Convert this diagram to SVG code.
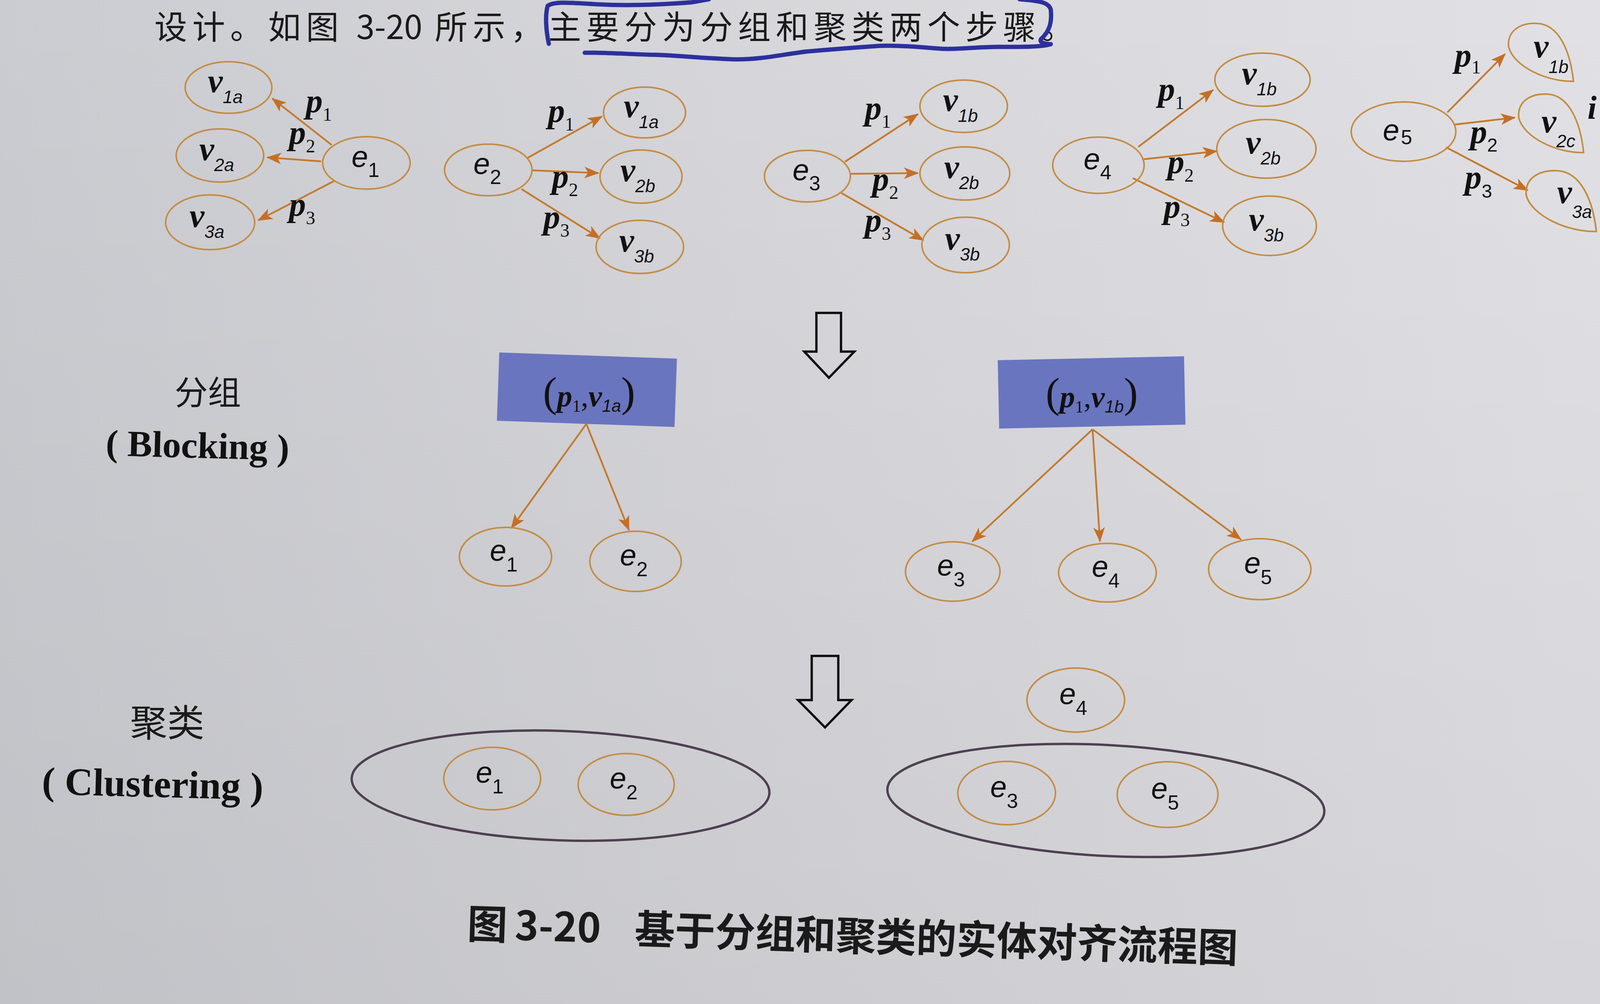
<svg xmlns="http://www.w3.org/2000/svg" width="4259" height="2570" viewBox="0 0 4259 2570">
<defs>
<linearGradient id="bg" x1="0" y1="0" x2="1" y2="0">
<stop offset="0" stop-color="#cbccd1"/>
<stop offset="0.5" stop-color="#d7d7dc"/>
<stop offset="1" stop-color="#e2e2e6"/>
</linearGradient>
<linearGradient id="shade" x1="0" y1="0" x2="0" y2="1">
<stop offset="0" stop-color="#000" stop-opacity="0"/>
<stop offset="1" stop-color="#000" stop-opacity="0.05"/>
</linearGradient>
<marker id="ah" viewBox="0 0 36 28" refX="34" refY="14" markerWidth="38" markerHeight="30" markerUnits="userSpaceOnUse" orient="auto">
<path d="M0,0 L36,14 L0,28 L9,14 Z" fill="#c46f25"/>
</marker>
<path id="tear" d="M168,148 C100,150 15,110 2,60 C-2,20 30,-2 75,0 C130,2 160,70 168,148 Z"/>
</defs>
<style>
.node{fill:none;stroke:#c48c42;stroke-width:4}
.clus{fill:none;stroke:#4e4050;stroke-width:6}
.edge{fill:none;stroke:#c47a2c;stroke-width:4.5;marker-end:url(#ah)}
.e{font-family:"Liberation Sans",Arial,sans-serif;font-style:italic;font-size:76px;fill:#111}
.es{font-style:normal;font-size:52px}
.v{font-family:"Liberation Serif","Times New Roman",serif;font-style:italic;font-weight:bold;font-size:86px;fill:#111}
.vs{font-family:"Liberation Sans",Arial,sans-serif;font-weight:normal;font-size:46px}
.p{font-family:"Liberation Serif","Times New Roman",serif;font-style:italic;font-weight:bold;font-size:86px;fill:#111}
.ps{font-style:normal;font-weight:normal;font-size:48px}
.cjk{font-family:"Noto Sans CJK SC",sans-serif;fill:#1a1a1a}
.lat{font-family:"Liberation Serif","Times New Roman",serif;font-weight:bold;fill:#111}
.hollow{fill:none;stroke:#111;stroke-width:6;stroke-linejoin:miter}
.box{fill:#6a75bf}
.bt{font-family:"Liberation Serif","Times New Roman",serif;fill:#111}
.par{font-size:108px}
.bi{font-size:78px;font-style:italic;font-weight:bold}
.bn{font-size:78px}
.bsub{font-size:44px}
.bsubs{font-size:44px;font-family:"Liberation Sans",Arial,sans-serif;font-style:italic}
.ink{fill:none;stroke:#2c309c;stroke-width:11;stroke-linecap:round;stroke-linejoin:round}
.nsp{letter-spacing:0}
</style>
<rect x="0" y="0" width="4259" height="2570" fill="url(#bg)"/>
<rect x="0" y="0" width="4259" height="2570" fill="url(#shade)"/>

<!-- page text -->
<g id="pagetext">
<text class="cjk" x="1404" y="100" font-size="84" letter-spacing="13" text-anchor="end">设计。如图 <tspan class="nsp">3-20</tspan> 所示，</text>
<text class="cjk" x="1404" y="100" font-size="84" letter-spacing="13">主要分为分组和聚类两个步骤。</text>
<path class="ink" d="M1405,112 C1398,80 1395,40 1402,15 C1420,2 1470,8 1530,11 C1600,15 1690,12 1770,6 L1815,-2"/>
<path class="ink" d="M2610,-2 C2650,2 2685,3 2690,25 C2693,55 2688,80 2665,100 C2660,108 2672,112 2690,113 C2670,121 2600,120 2555,120 C2480,121 2440,128 2400,124 C2320,117 2270,116 2243,118 C2170,123 2110,128 2064,132 C2000,140 1950,152 1886,152 C1800,150 1720,140 1662,140 C1600,138 1540,134 1497,135"/>
<text x="4064" y="304" font-family="Liberation Serif, serif" font-style="italic" font-weight="bold" font-size="84" fill="#111">i</text>
</g>

<!-- connectors -->
<g id="connectors">
<line class="edge" x1="849" y1="371" x2="697" y2="252"/>
<line class="edge" x1="822" y1="413" x2="684" y2="403"/>
<line class="edge" x1="858" y1="462" x2="661" y2="564"/>
<line class="edge" x1="1349" y1="405" x2="1541" y2="298"/>
<line class="edge" x1="1362" y1="436" x2="1532" y2="443"/>
<line class="edge" x1="1335" y1="484" x2="1536" y2="610"/>
<line class="edge" x1="2163" y1="414" x2="2350" y2="292"/>
<line class="edge" x1="2177" y1="445" x2="2350" y2="443"/>
<line class="edge" x1="2154" y1="494" x2="2364" y2="615"/>
<line class="edge" x1="2914" y1="376" x2="3106" y2="230"/>
<line class="edge" x1="2924" y1="408" x2="3115" y2="387"/>
<line class="edge" x1="2900" y1="456" x2="3134" y2="569"/>
<line class="edge" x1="3705" y1="288" x2="3853" y2="138"/>
<line class="edge" x1="3722" y1="319" x2="3878" y2="301"/>
<line class="edge" x1="3702" y1="377" x2="3911" y2="487"/>
<line class="edge" x1="1501" y1="1085" x2="1309" y2="1352"/>
<line class="edge" x1="1501" y1="1085" x2="1610" y2="1357"/>
<line class="edge" x1="2797" y1="1099" x2="2489" y2="1386"/>
<line class="edge" x1="2797" y1="1099" x2="2816" y2="1386"/>
<line class="edge" x1="2797" y1="1099" x2="3177" y2="1381"/>
</g>

<!-- edge labels -->
<g id="edge-labels">
<text class="p" x="783" y="287">p<tspan class="ps" dy="22">1</tspan></text>
<text class="p" x="740" y="368">p<tspan class="ps" dy="22">2</tspan></text>
<text class="p" x="740" y="552">p<tspan class="ps" dy="22">3</tspan></text>
<text class="p" x="1403" y="312">p<tspan class="ps" dy="22">1</tspan></text>
<text class="p" x="1413" y="480">p<tspan class="ps" dy="22">2</tspan></text>
<text class="p" x="1391" y="584">p<tspan class="ps" dy="22">3</tspan></text>
<text class="p" x="2214" y="305">p<tspan class="ps" dy="22">1</tspan></text>
<text class="p" x="2233" y="487">p<tspan class="ps" dy="22">2</tspan></text>
<text class="p" x="2214" y="592">p<tspan class="ps" dy="22">3</tspan></text>
<text class="p" x="2965" y="257">p<tspan class="ps" dy="22">1</tspan></text>
<text class="p" x="2989" y="443">p<tspan class="ps" dy="22">2</tspan></text>
<text class="p" x="2979" y="557">p<tspan class="ps" dy="22">3</tspan></text>
<text class="p" x="3724" y="170" font-size="94">p<tspan class="ps" font-size="56" dy="18">1</tspan></text>
<text class="p" x="3764" y="366" font-size="94">p<tspan class="ps" font-size="56" dy="22" font-family="Liberation Sans, sans-serif">2</tspan></text>
<text class="p" x="3750" y="482" font-size="94">p<tspan class="ps" font-size="56" dy="24" font-family="Liberation Sans, sans-serif">3</tspan></text>
</g>

<!-- group 1 -->
<g id="g1-v1a"><ellipse class="node" cx="585" cy="224" rx="111" ry="66"/><text class="v" x="532" y="236">v<tspan class="vs" dy="28">1a</tspan></text></g>
<g id="g1-v2a"><ellipse class="node" cx="563" cy="398" rx="112" ry="68"/><text class="v" x="510" y="410">v<tspan class="vs" dy="28">2a</tspan></text></g>
<g id="g1-v3a"><ellipse class="node" cx="538" cy="569" rx="114" ry="70"/><text class="v" x="485" y="581">v<tspan class="vs" dy="28">3a</tspan></text></g>
<g id="g1-e1"><ellipse class="node" cx="938" cy="417" rx="112" ry="67"/><text class="e" x="900" y="427">e<tspan class="es" dy="26">1</tspan></text></g>

<!-- group 2 -->
<g id="g2-e2"><ellipse class="node" cx="1250" cy="435" rx="112" ry="66"/><text class="e" x="1212" y="445">e<tspan class="es" dy="26">2</tspan></text></g>
<g id="g2-v1a"><ellipse class="node" cx="1650" cy="288" rx="105" ry="65"/><text class="v" x="1597" y="300">v<tspan class="vs" dy="28">1a</tspan></text></g>
<g id="g2-v2b"><ellipse class="node" cx="1641" cy="452" rx="105" ry="68"/><text class="v" x="1588" y="464">v<tspan class="vs" dy="28">2b</tspan></text></g>
<g id="g2-v3b"><ellipse class="node" cx="1638" cy="632" rx="112" ry="68"/><text class="v" x="1585" y="644">v<tspan class="vs" dy="28">3b</tspan></text></g>

<!-- group 3 -->
<g id="g3-e3"><ellipse class="node" cx="2067" cy="451" rx="110" ry="66"/><text class="e" x="2029" y="461">e<tspan class="es" dy="26">3</tspan></text></g>
<g id="g3-v1b"><ellipse class="node" cx="2467" cy="272" rx="112" ry="67"/><text class="v" x="2414" y="284">v<tspan class="vs" dy="28">1b</tspan></text></g>
<g id="g3-v2b"><ellipse class="node" cx="2470" cy="444" rx="115" ry="68"/><text class="v" x="2417" y="456">v<tspan class="vs" dy="28">2b</tspan></text></g>
<g id="g3-v3b"><ellipse class="node" cx="2472" cy="627" rx="112" ry="71"/><text class="v" x="2419" y="639">v<tspan class="vs" dy="28">3b</tspan></text></g>

<!-- group 4 -->
<g id="g4-e4"><ellipse class="node" cx="2812" cy="423" rx="117" ry="72"/><text class="e" x="2774" y="433">e<tspan class="es" dy="26">4</tspan></text></g>
<g id="g4-v1b"><ellipse class="node" cx="3232" cy="204" rx="122" ry="68"/><text class="v" x="3179" y="216">v<tspan class="vs" dy="28">1b</tspan></text></g>
<g id="g4-v2b"><ellipse class="node" cx="3242" cy="381" rx="127" ry="75"/><text class="v" x="3189" y="393">v<tspan class="vs" dy="28">2b</tspan></text></g>
<g id="g4-v3b"><ellipse class="node" cx="3250" cy="578" rx="120" ry="76"/><text class="v" x="3197" y="590">v<tspan class="vs" dy="28">3b</tspan></text></g>

<!-- group 5 -->
<g id="g5-e5"><ellipse class="node" cx="3593" cy="337" rx="134" ry="76"/><text class="e" x="3540" y="359" font-size="78">e<tspan class="es" font-size="62" dx="4" dy="10">5</tspan></text></g>
<g id="g5-v1b"><use href="#tear" class="node" transform="translate(3860,60)"/><text class="v" x="3926" y="147">v<tspan class="vs" font-size="38" dy="40">1b</tspan></text></g>
<g id="g5-v2c"><use href="#tear" class="node" transform="translate(3886,241) scale(1,1.01)"/><text class="v" x="3946" y="339">v<tspan class="vs" font-size="38" dy="38">2c</tspan></text></g>
<g id="g5-v3a"><use href="#tear" class="node" transform="translate(3905,437) scale(1.08,1.05)"/><text class="v" x="3986" y="520">v<tspan class="vs" font-size="38" dy="38">3a</tspan></text></g>

<!-- hollow arrows -->
<g id="step-arrow-1"><polygon class="hollow" points="2090,801 2153,801 2153,900 2187,900 2122,967 2059,900 2090,900"/></g>
<g id="step-arrow-2"><polygon class="hollow" points="2078,1679 2146,1679 2146,1792 2180,1792 2112,1862 2043,1792 2078,1792"/></g>

<!-- side labels -->
<g id="label-blocking">
<text class="cjk" x="532" y="1036" font-size="85" text-anchor="middle">分组</text>
<text class="lat" x="505" y="1172" font-size="95" text-anchor="middle" transform="rotate(1.5 505 1172)">( Blocking )</text>
</g>
<g id="label-clustering">
<text class="cjk" x="428" y="1885" font-size="95" text-anchor="middle">聚类</text>
<text class="lat" x="390" y="2040" font-size="100" text-anchor="middle" transform="rotate(1.5 390 2040)">( Clustering )</text>
</g>

<!-- blocking boxes -->
<g id="block-1">
<rect class="box" x="1275" y="910" width="455" height="175" transform="rotate(2 1502 997)"/>
<text class="bt" x="1508" y="1040" text-anchor="middle"><tspan class="par">(</tspan><tspan class="bi">p</tspan><tspan class="bsub" dy="14">1</tspan><tspan class="bn" dy="-14">,</tspan><tspan class="bi">v</tspan><tspan class="bsubs" dy="14">1a</tspan><tspan class="par" dy="-14">)</tspan></text>
</g>
<g id="block-2">
<rect class="box" x="2556" y="917" width="477" height="175" transform="rotate(-1.2 2795 1005)"/>
<text class="bt" x="2795" y="1042" text-anchor="middle"><tspan class="par">(</tspan><tspan class="bi">p</tspan><tspan class="bsub" dy="14">1</tspan><tspan class="bn" dy="-14">,</tspan><tspan class="bi">v</tspan><tspan class="bsubs" dy="14">1b</tspan><tspan class="par" dy="-14">)</tspan></text>
</g>

<!-- blocking result nodes -->
<g id="b-e1"><ellipse class="node" cx="1294" cy="1425" rx="118" ry="75"/><text class="e" x="1254" y="1435" font-size="80">e<tspan class="es" dy="28">1</tspan></text></g>
<g id="b-e2"><ellipse class="node" cx="1627" cy="1437" rx="117" ry="77"/><text class="e" x="1587" y="1447" font-size="80">e<tspan class="es" dy="28">2</tspan></text></g>
<g id="b-e3"><ellipse class="node" cx="2439" cy="1463" rx="121" ry="76"/><text class="e" x="2399" y="1473" font-size="80">e<tspan class="es" dy="28">3</tspan></text></g>
<g id="b-e4"><ellipse class="node" cx="2835" cy="1466" rx="125" ry="75"/><text class="e" x="2795" y="1476" font-size="80">e<tspan class="es" dy="28">4</tspan></text></g>
<g id="b-e5"><ellipse class="node" cx="3225" cy="1457" rx="131" ry="78"/><text class="e" x="3185" y="1467" font-size="80">e<tspan class="es" dy="28">5</tspan></text></g>

<!-- clustering -->
<g id="cluster-1">
<ellipse class="clus" cx="1435" cy="2011" rx="535" ry="140" transform="rotate(2 1435 2011)"/>
<g id="c-e1"><ellipse class="node" cx="1260" cy="1993" rx="124" ry="80"/><text class="e" x="1218" y="2003" font-size="80">e<tspan class="es" dy="28">1</tspan></text></g>
<g id="c-e2"><ellipse class="node" cx="1603" cy="2008" rx="123" ry="79"/><text class="e" x="1561" y="2018" font-size="80">e<tspan class="es" dy="28">2</tspan></text></g>
</g>
<g id="c-e4"><ellipse class="node" cx="2754" cy="1792" rx="125" ry="82"/><text class="e" x="2712" y="1802" font-size="80">e<tspan class="es" dy="28">4</tspan></text></g>
<g id="cluster-2">
<ellipse class="clus" cx="2831" cy="2049" rx="560" ry="142" transform="rotate(3 2831 2049)"/>
<g id="c-e3"><ellipse class="node" cx="2577" cy="2030" rx="125" ry="81"/><text class="e" x="2535" y="2040" font-size="80">e<tspan class="es" dy="28">3</tspan></text></g>
<g id="c-e5"><ellipse class="node" cx="2989" cy="2034" rx="129" ry="84"/><text class="e" x="2947" y="2044" font-size="80">e<tspan class="es" dy="28">5</tspan></text></g>
</g>

<!-- caption -->
<g id="caption">
<text class="cjk" font-size="103" font-weight="bold" transform="rotate(1.8 1195 2402)"><tspan x="1195" y="2402">图</tspan><tspan x="1317" y="2402">3-20</tspan><tspan x="1624" y="2402">基于分组和聚类的实体对齐流程图</tspan></text>
</g>
</svg>
